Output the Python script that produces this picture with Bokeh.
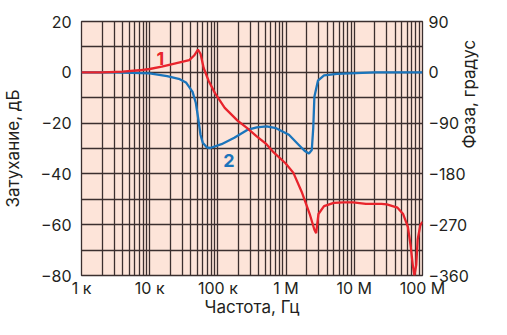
import math
from bokeh.plotting import figure
from bokeh.models import Range1d, LinearAxis, FixedTicker, Label
from bokeh.embed import file_html
from bokeh.resources import INLINE

# ---- data ----
freq_ticks = [1e3, 1e4, 1e5, 1e6, 1e7, 1e8]
freq_labels = ["1 к", "10 к", "100 к", "1 М", "10 М", "100 М"]
db_ticks = [-80, -60, -40, -20, 0, 20]
phase_ticks = [-360, -270, -180, -90, 0, 90]

# curve 1 (red)
c1_f = [1e3, 2e3, 4e3, 7e3, 1e4, 1.5e4, 2e4, 2.76e4, 3.8e4, 4.48e4, 5.1e4, 5.56e4,
        6.2e4, 7.3e4, 9.1e4, 1.26e5, 1.94e5, 2.69e5, 3.71e5, 5.15e5, 6.4e5, 9.8e5,
        1.28e6, 1.69e6, 2.22e6, 2.6e6, 2.76e6, 2.98e6, 3.6e6, 5.0e6, 7.0e6, 9.6e6,
        1.48e7, 2.5e7, 3.0e7, 4.3e7, 5.2e7, 6.1e7, 6.7e7, 7.2e7, 7.6e7, 8.1e7,
        8.5e7, 9.3e7, 1e8]
c1_db = [0, 0, 0.3, 0.8, 1.3, 2.2, 3.0, 3.9, 4.8, 6.6, 8.9, 7.3,
         1.6, -3.3, -8.3, -14.0, -19.0, -22.0, -25.2, -28.3, -31.2, -35.8,
         -39.6, -47.0, -55.8, -62.0, -63.3, -55.8, -52.7, -51.4, -51.2, -51.2,
         -51.8, -51.8, -52.0, -53.3, -55.8, -60.8, -68.3, -75.8, -80.0, -75.8,
         -65.8, -60.1, -58.9]

# curve 2 (blue)
c2_f = [1e3, 3e3, 1e4, 1.8e4, 2.76e4, 3.4e4, 4.25e4, 4.75e4, 5.15e4, 5.56e4,
        6.0e4, 6.9e4, 7.7e4, 1.13e5, 1.74e5, 2.69e5, 3.71e5, 5.15e5, 7.13e5,
        1.1e6, 1.5e6, 1.88e6, 2.16e6, 2.38e6, 2.5e6, 2.6e6, 2.93e6, 3.6e6,
        5.6e6, 2e7, 1e8]
c2_db = [0, 0, -0.4, -1.5, -2.7, -4.0, -7.7, -12.1, -18.3, -24.6,
         -27.7, -29.6, -29.8, -28.3, -25.8, -22.7, -21.7, -21.3, -22.0,
         -24.6, -28.3, -31.0, -32.0, -30.6, -22.0, -9.6, -3.3, -1.2,
         -0.6, 0, 0]

GRID = "#3b2f2f"
TEXT = "#231f20"
FONT = "Inter"

p = figure(width=491, height=319, x_axis_type="log",
           x_range=Range1d(1e3, 1e8), y_range=Range1d(-80, 20),
           output_backend="svg", toolbar_location=None,
           min_border_left=78, min_border_right=40,
           min_border_top=21, min_border_bottom=20)
p.background_fill_color = "#fde4d9"
p.border_fill_color = "white"
p.outline_line_color = GRID
p.outline_line_width = 1.3

p.extra_y_ranges = {"phase": Range1d(-360, 90)}
right = LinearAxis(y_range_name="phase", ticker=FixedTicker(ticks=phase_ticks),
                   axis_label="Фаза, градус")
p.add_layout(right, "right")

bottom = p.below[0]
bottom.ticker = FixedTicker(ticks=freq_ticks)
bottom.major_label_overrides = {t: l for t, l in zip(freq_ticks, freq_labels)}
bottom.axis_label = "Частота, Гц"
left = p.left[0]
left.ticker = FixedTicker(ticks=db_ticks)
left.axis_label = "Затухание, дБ"

for ax in (bottom, left, right):
    ax.axis_line_color = None
    ax.major_tick_line_color = None
    ax.minor_tick_line_color = None
    ax.major_tick_out = 0
    ax.major_tick_in = 0
    ax.minor_tick_out = 0
    ax.minor_tick_in = 0
    ax.major_label_text_font = FONT
    ax.major_label_text_font_size = "16px"
    ax.major_label_text_color = TEXT
    ax.axis_label_text_font = FONT
    ax.axis_label_text_font_size = "17px"
    ax.axis_label_text_font_style = "normal"
    ax.axis_label_text_color = TEXT
left.major_label_standoff = 10
left.axis_label_standoff = 14
right.major_label_standoff = 6
right.axis_label_standoff = -3
right.axis_label_orientation = math.pi / 2
bottom.major_label_standoff = 2
bottom.axis_label_standoff = -4

grid_x = [m * 10 ** k for k in range(3, 8) for m in range(1, 10)] + [1e8]
p.xgrid.ticker = FixedTicker(ticks=grid_x)
p.ygrid.ticker = FixedTicker(ticks=list(range(-80, 21, 10)))
for g in (p.xgrid, p.ygrid):
    g.grid_line_color = GRID
    g.grid_line_width = 1.3
    g.grid_line_alpha = 1.0

p.line(c2_f, c2_db, line_color="#1b75bc", line_width=2.3)
p.line(c1_f, c1_db, line_color="#e8242c", line_width=2.3)

p.add_layout(Label(x=1.44e4, y=5.4, text="1", text_color="#e8242c",
                   text_font=FONT, text_font_size="18px", text_font_style="bold",
                   text_align="center", text_baseline="middle"))
p.add_layout(Label(x=1.45e5, y=-34.7, text="2", text_color="#1b75bc",
                   text_font=FONT, text_font_size="18px", text_font_style="bold",
                   text_align="center", text_baseline="middle"))

open("out.html", "w").write(file_html(p, INLINE))
